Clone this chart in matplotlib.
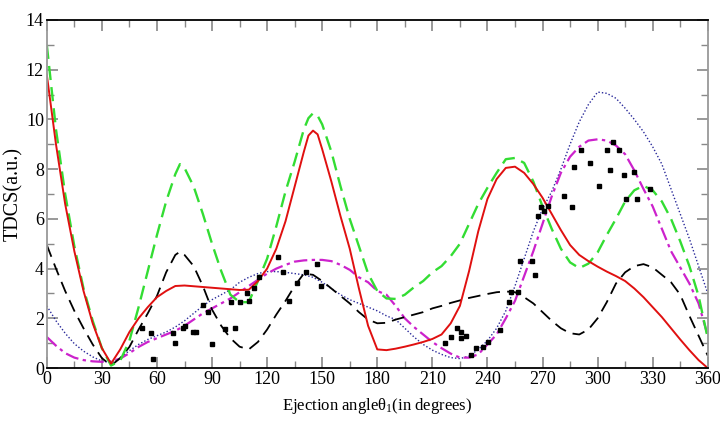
import matplotlib
matplotlib.use("Agg")
import matplotlib.pyplot as plt
from matplotlib.ticker import MultipleLocator

plt.rcParams['font.family'] = ['Liberation Serif', 'DejaVu Serif']
plt.rcParams['mathtext.fontset'] = 'custom'
plt.rcParams['mathtext.rm'] = 'Liberation Serif'
plt.rcParams['mathtext.default'] = 'regular'

# ejection angle grid (degrees)
theta = list(range(0, 365, 5))

red_solid = [11.8, 9.0, 6.6, 4.7, 3.1, 1.8, 0.8, 0.18, 0.75, 1.45, 2.0, 2.45, 2.85, 3.1, 3.3,
             3.32, 3.29, 3.26, 3.23, 3.2, 3.17, 3.14, 3.15, 3.5, 4.0, 4.8, 5.9, 7.3, 8.7, 9.55,
             8.8, 7.5, 6.1, 4.8, 3.2, 1.7, 0.75, 0.72, 0.78, 0.86, 0.95, 1.05, 1.17, 1.35, 1.8,
             2.5, 3.9, 5.5, 6.8, 7.6, 8.05, 8.1, 7.85, 7.4, 6.85, 6.2, 5.55, 4.95, 4.55, 4.3,
             4.08, 3.88, 3.7, 3.5, 3.2, 2.85, 2.45, 2.05, 1.6, 1.15, 0.72, 0.32, 0.0]

green_dash = [13.0, 9.6, 7.0, 4.9, 3.2, 1.9, 0.8, 0.1, 0.3, 1.1, 2.45, 3.9, 5.35, 6.7, 7.8,
              8.05, 7.3, 6.2, 5.0, 3.9, 2.95, 2.65, 2.65, 3.5, 4.4, 5.7, 7.1, 8.3, 9.6, 10.25,
              9.8, 8.7, 7.3, 6.0, 4.9, 3.8, 3.1, 2.8, 2.78, 2.95, 3.25, 3.5, 3.85, 4.1, 4.5,
              5.0, 5.8, 6.6, 7.25, 7.85, 8.4, 8.45, 8.25, 7.5, 6.5, 5.6, 4.8, 4.25, 4.02, 4.2,
              4.65, 5.35, 6.0, 6.7, 7.15, 7.33, 7.15, 6.7, 6.0, 5.1, 4.1, 2.9, 1.2]

black_dash = [4.95, 4.0, 3.1, 2.3, 1.6, 0.95, 0.4, 0.1, 0.4, 0.85, 1.55, 2.2, 2.9, 3.85, 4.55,
              4.55, 4.1, 3.3, 2.35, 1.7, 1.2, 0.86, 0.75, 1.05, 1.55, 2.15, 2.7, 3.3, 3.8, 3.75,
              3.5, 3.2, 2.9, 2.6, 2.25, 1.95, 1.8, 1.82, 1.95, 2.05, 2.15, 2.25, 2.4, 2.5, 2.62,
              2.72, 2.82, 2.9, 2.98, 3.05, 3.08, 3.05, 2.85, 2.6, 2.25, 1.9, 1.6, 1.4, 1.35, 1.55,
              2.0, 2.65, 3.4, 3.85, 4.1, 4.18, 4.05, 3.75, 3.45, 2.95, 2.1, 1.3, 0.5]

blue_dot = [2.5, 1.9, 1.4, 0.98, 0.68, 0.45, 0.28, 0.22, 0.4, 0.7, 0.95, 1.15, 1.3, 1.45, 1.65,
            1.9, 2.2, 2.5, 2.75, 2.95, 3.15, 3.45, 3.65, 3.8, 3.88, 3.88, 3.85, 3.8, 3.75, 3.65,
            3.45, 3.2, 2.95, 2.75, 2.6, 2.45, 2.3, 2.1, 1.95, 1.6, 1.25, 0.95, 0.72, 0.55, 0.42,
            0.38, 0.48, 0.75, 1.1, 1.6, 2.3, 3.3, 4.4, 5.5, 6.4, 7.1, 8.0, 9.0, 9.9, 10.6,
            11.1, 11.05, 10.85, 10.45, 10.0, 9.5, 8.9, 8.2, 7.2, 6.2, 5.2, 4.1, 3.0]

magenta_dashdot = [1.25, 0.9, 0.6, 0.42, 0.32, 0.27, 0.25, 0.27, 0.38, 0.6, 0.85, 1.05, 1.2, 1.35, 1.5,
                   1.7, 1.95, 2.2, 2.4, 2.6, 2.8, 3.05, 3.3, 3.55, 3.8, 4.0, 4.15, 4.28, 4.33, 4.35,
                   4.35, 4.3, 4.15, 3.95, 3.65, 3.45, 3.1, 2.95, 2.5, 2.0, 1.65, 1.35, 1.05, 0.8, 0.58,
                   0.42, 0.42, 0.55, 0.95, 1.35, 2.0, 2.7, 3.7, 4.7, 5.8, 6.9, 7.85, 8.5, 8.9, 9.15,
                   9.2, 9.15, 8.95, 8.6, 7.95, 7.2, 6.5, 5.6, 4.7, 4.05, 3.4, 2.6, 1.3]

# extra readings taken around the sharper maxima
red_peak_theta = [142.5, 147.5]
red_peak_vals = [9.35, 9.4]
green_peak_theta = [72.5, 142.5, 147.5]
green_peak_vals = [8.2, 10.05, 10.15]
black_peak_theta = [72.5]
black_peak_vals = [4.68]

# experimental points
exp_theta = [51.6, 57, 57.9, 68.8, 69.7, 74.2, 75.2, 79.7, 81, 85.2, 87.9, 90.2, 97, 100.2,
             102.4, 105, 108.8, 110, 113, 115.6, 126, 128.7, 132, 136.3, 141.4, 146.9, 149.6,
             216.8, 220.4, 223.5, 225.5, 225.8, 228.2, 231.3, 234, 237.6, 240.4, 246.7, 251.8,
             253, 256.7, 258, 264, 265.8, 267.6, 269.4, 271, 273, 281.8, 285.8, 287.2, 291.2,
             295.8, 300.6, 305.2, 306.6, 308.4, 311.7, 314.3, 315.7, 319.9, 321.5, 328.4]
exp_tdcs = [1.63, 1.4, 0.35, 1.4, 1.02, 1.6, 1.69, 1.46, 1.46, 2.53, 2.27, 0.95, 1.56, 2.67,
            1.6, 2.67, 3.0, 2.71, 3.2, 3.65, 4.45, 3.85, 2.71, 3.41, 3.88, 4.19, 3.32,
            1.02, 1.26, 1.63, 1.46, 1.2, 1.29, 0.52, 0.79, 0.86, 1.06, 1.53, 2.67,
            3.04, 3.05, 4.29, 4.29, 3.75, 6.1, 6.48, 6.3, 6.5, 6.9, 6.48, 8.09, 8.76,
            8.25, 7.31, 8.76, 7.98, 9.08, 8.79, 7.75, 6.81, 7.87, 6.81, 7.2]


def merged(xs, ys, extra_x, extra_y):
    pts = sorted(zip(list(xs) + list(extra_x), list(ys) + list(extra_y)))
    return [p[0] for p in pts], [p[1] for p in pts]


fig = plt.figure(figsize=(7.2, 4.25), dpi=100)
ax = fig.add_axes([0.065, 0.134, 0.918, 0.819])

ax.plot(theta, blue_dot, color='#2a2a9a', lw=1.0, linestyle=(0, (1, 1.5)))
ax.plot(theta, magenta_dashdot, color='#cc22cc', lw=1.6, linestyle=(0, (6, 2, 1.5, 2)))
bx, by = merged(theta, black_dash, black_peak_theta, black_peak_vals)
ax.plot(bx, by, color='black', lw=1.3, linestyle=(0, (7, 4)))
gx, gy = merged(theta, green_dash, green_peak_theta, green_peak_vals)
ax.plot(gx, gy, color='#33dd33', lw=1.7, linestyle=(0, (6, 3)))
rx, ry = merged(theta, red_solid, red_peak_theta, red_peak_vals)
ax.plot(rx, ry, color='#e01010', lw=1.4)
ax.plot(exp_theta, exp_tdcs, linestyle='none', marker='s', ms=3.2, color='black')

ax.set_xlim(0, 360)
ax.set_ylim(0, 14)
ax.xaxis.set_major_locator(MultipleLocator(30))
ax.xaxis.set_minor_locator(MultipleLocator(15))
ax.yaxis.set_major_locator(MultipleLocator(2))
ax.yaxis.set_minor_locator(MultipleLocator(1))
ax.tick_params(which='both', direction='in', top=True, right=True, color='#888888',
               labelsize=13, pad=2)
ax.tick_params(which='major', length=8, width=1.2)
ax.tick_params(which='minor', length=5, width=1.0)
for side in ['left', 'right']:
    ax.spines[side].set_color('#999999')
for side in ['top', 'bottom']:
    ax.spines[side].set_color('black')
for s in ax.spines.values():
    s.set_linewidth(1.3)

ax.set_xlabel('Ejection angleθ$_1$(in degrees)', fontsize=12, labelpad=6)
ax.set_ylabel('TDCS(a.u.)', fontsize=14.5, labelpad=2)

fig.savefig('out.png', dpi=100)
